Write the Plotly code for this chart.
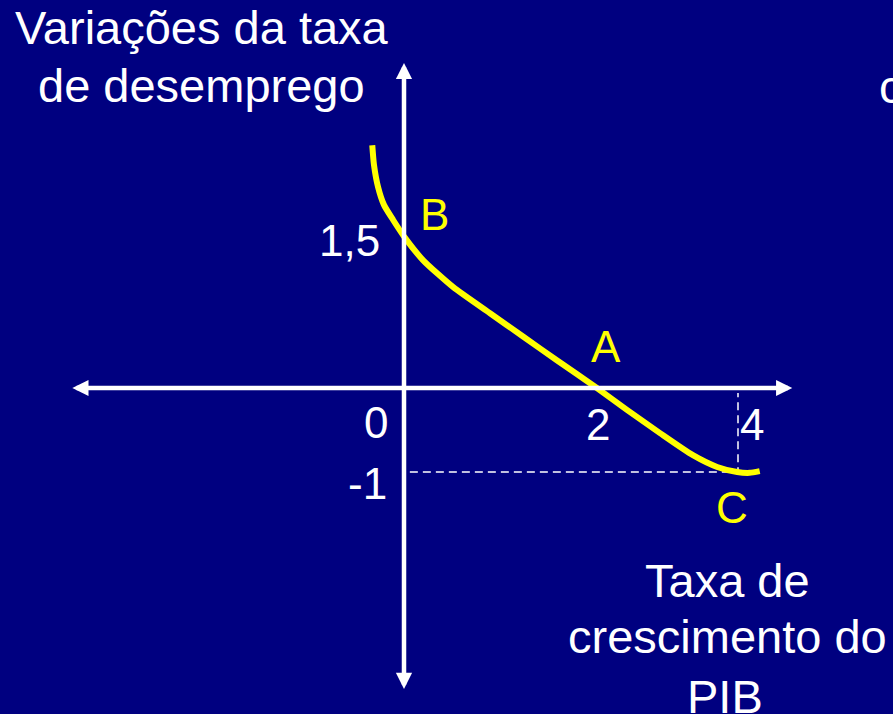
import plotly.graph_objects as go

# curve (drawing units: x = PIB growth, y = change in unemployment)
curve_x = [-0.38, -0.36, -0.31, -0.24, -0.13, 0.01, 0.23, 0.59, 1.03, 1.43, 1.83, 2.31, 2.67, 3.07, 3.46, 3.75, 3.99, 4.14, 4.26]
curve_y = [2.89, 2.66, 2.39, 2.18, 2.0, 1.79, 1.52, 1.20, 0.89, 0.61, 0.33, 0.0, -0.26, -0.54, -0.80, -0.94, -1.0, -1.01, -0.99]

# point C on the curve (dashed guides go from it to the axes)
point_c = (4.0, -1.0)

# labels on the drawing
point_labels = ['B', 'A', 'C']
x_tick_text = ['0', '2', '4']
y_tick_text = ['1,5', '-1']

y_title = ['Variações da taxa', 'de desemprego']
x_title = ['Taxa de', 'crescimento do', 'PIB']

W, H = 893, 714
FONT = 'Arial, Liberation Sans, sans-serif'
BG = '#000080'

fig = go.Figure()

# dashed guides from C
fig.add_trace(go.Scatter(x=[0.07, point_c[0], point_c[0]], y=[point_c[1], point_c[1], -0.06],
                         mode='lines', line=dict(color='white', width=1.5, dash='8px,5px'),
                         hoverinfo='skip', showlegend=False))

# yellow curve
fig.add_trace(go.Scatter(x=curve_x, y=curve_y, mode='lines',
                         line=dict(color='#FFFF00', width=6, shape='spline', smoothing=0.6),
                         showlegend=False))

# axes with arrows
fig.add_annotation(x=4.65, y=0, ax=-3.99, ay=0, xref='x', yref='y', axref='x', ayref='y',
                   text='', showarrow=True, arrowhead=2, startarrowhead=2, arrowside='end+start',
                   arrowsize=0.72, startarrowsize=0.72, arrowwidth=4.5, arrowcolor='white')
fig.add_annotation(x=0, y=3.87, ax=0, ay=-3.6, xref='x', yref='y', axref='x', ayref='y',
                   text='', showarrow=True, arrowhead=2, startarrowhead=2, arrowside='end+start',
                   arrowsize=0.72, startarrowsize=0.72, arrowwidth=4.5, arrowcolor='white')

lab = dict(xref='x', yref='y', showarrow=False, xanchor='center', yanchor='middle')
# point labels B, A, C
for t, (lx, ly) in zip(point_labels, [(0.36, 2.06), (2.42, 0.5), (3.93, -1.42)]):
    fig.add_annotation(x=lx, y=ly, text=t, font=dict(family=FONT, size=44, color='#FFFF00'), **lab)
# tick labels
for t, (lx, ly) in zip(x_tick_text, [(-0.34, -0.41), (2.32, -0.43), (4.17, -0.43)]):
    fig.add_annotation(x=lx, y=ly, text=t, font=dict(family=FONT, size=44, color='white'), **lab)
for t, (lx, ly) in zip(y_tick_text, [(-0.65, 1.76), (-0.44, -1.14)]):
    fig.add_annotation(x=lx, y=ly, text=t, font=dict(family=FONT, size=44, color='white'), **lab)

# axis titles (slide text)
pap = dict(xref='paper', yref='paper', showarrow=False, xanchor='center', yanchor='middle')
for t, (tx, ty) in zip(y_title, [(202, 28), (201, 85)]):
    fig.add_annotation(x=tx / W, y=1 - ty / H, text=t, font=dict(family=FONT, size=47, color='white'), **pap)
for t, (tx, ty) in zip(x_title, [(727, 580), (727, 636), (725, 696)]):
    fig.add_annotation(x=tx / W, y=1 - ty / H, text=t, font=dict(family=FONT, size=47, color='white'), **pap)
# cut-off text at the right edge of the slide
fig.add_annotation(x=877 / W, y=1 - 86 / H, text='c', xref='paper', yref='paper', showarrow=False,
                   xanchor='left', yanchor='middle', font=dict(family=FONT, size=47, color='white'))

fig.update_layout(width=W, height=H, margin=dict(l=0, r=0, t=0, b=0),
                  paper_bgcolor=BG, plot_bgcolor=BG)
fig.update_xaxes(range=[-404 / 83.5, (W - 404) / 83.5], visible=False, fixedrange=True)
fig.update_yaxes(range=[-(H - 388) / 84, 388 / 84], visible=False, fixedrange=True)

fig.write_html('out.html', config={'displayModeBar': False},
               post_script="document.body.style.margin='0';document.body.style.background='#000080';")
